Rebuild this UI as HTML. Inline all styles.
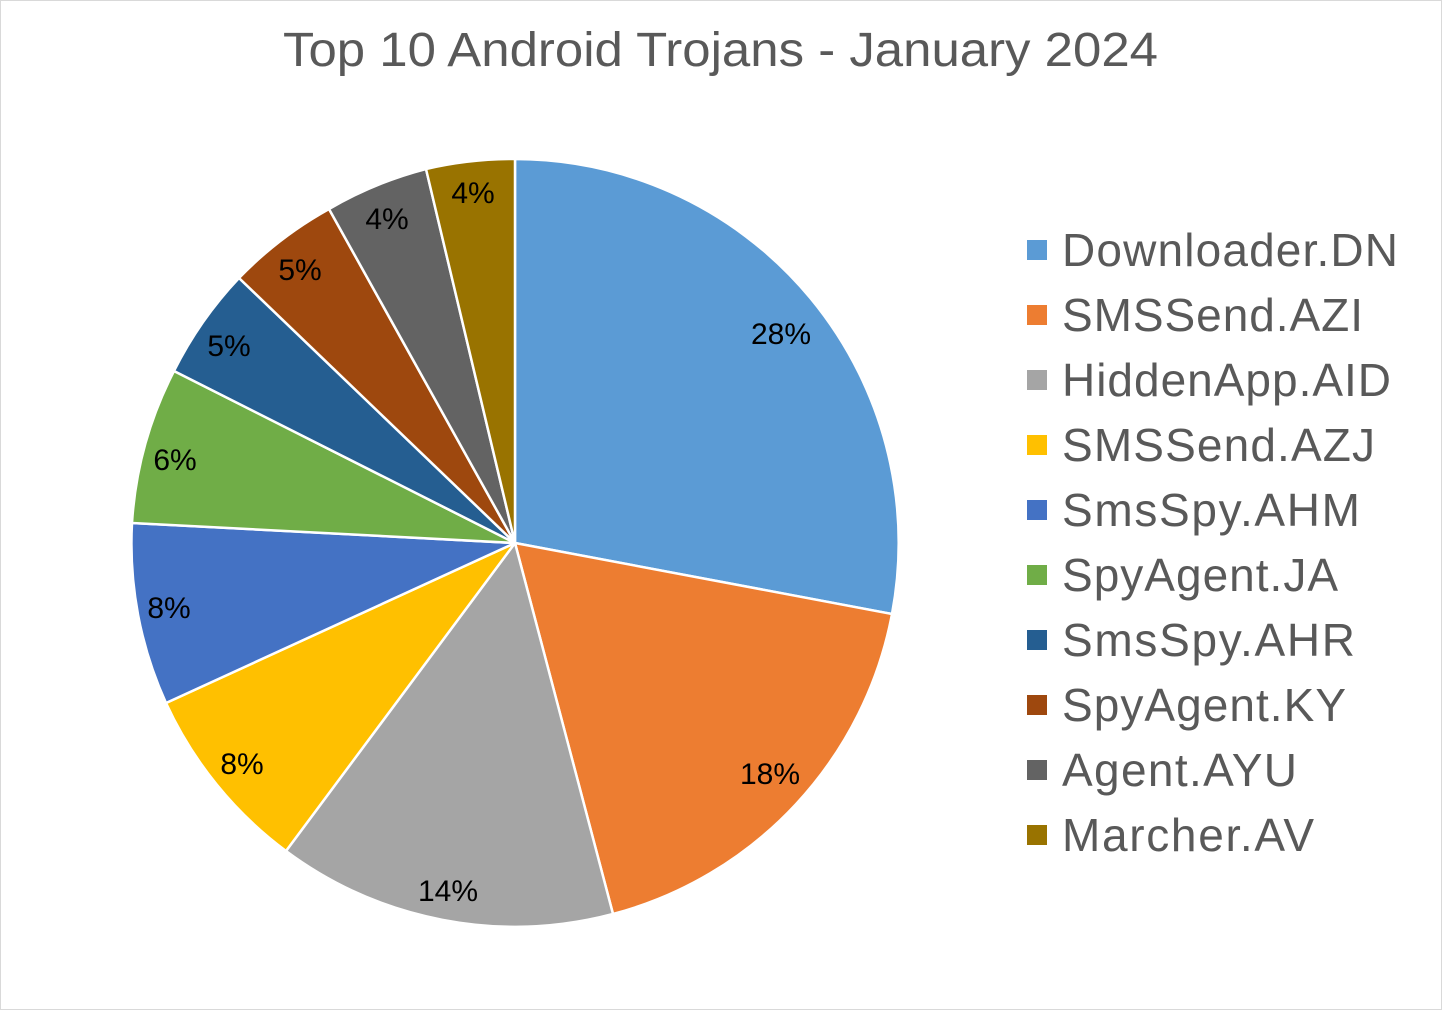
<!DOCTYPE html>
<html><head><meta charset="utf-8"><style>
body{margin:0;background:#fff}
svg{display:block}
</style></head><body>
<svg width="1442" height="1010" xmlns="http://www.w3.org/2000/svg" font-family="Liberation Sans, Arial, sans-serif">
<rect x="0.5" y="0.5" width="1441" height="1009" fill="#fff" stroke="#d9d9d9"/>
<text x="283" y="66" font-size="48" fill="#595959" textLength="875" lengthAdjust="spacingAndGlyphs">Top 10 Android Trojans - January 2024</text>
<g stroke="#fff" stroke-width="2.5" stroke-linejoin="round">
<path d="M515,543 L515,159 A384,384 0 0 1 892,614 Z" fill="#5B9BD5"/>
<path d="M515,543 L892,614 A384,384 0 0 1 613,914 Z" fill="#ED7D31"/>
<path d="M515,543 L613,914 A384,384 0 0 1 286,851 Z" fill="#A5A5A5"/>
<path d="M515,543 L286,851 A384,384 0 0 1 166,703 Z" fill="#FFC000"/>
<path d="M515,543 L166,703 A384,384 0 0 1 132,523 Z" fill="#4472C4"/>
<path d="M515,543 L132,523 A384,384 0 0 1 174,371 Z" fill="#70AD47"/>
<path d="M515,543 L174,371 A384,384 0 0 1 239,278 Z" fill="#255E91"/>
<path d="M515,543 L239,278 A384,384 0 0 1 329,209 Z" fill="#9E480E"/>
<path d="M515,543 L329,209 A384,384 0 0 1 426,169 Z" fill="#636363"/>
<path d="M515,543 L426,169 A384,384 0 0 1 515,159 Z" fill="#997300"/>
</g>
<g font-size="30" fill="#000" text-anchor="middle">
<text x="781" y="344">28%</text>
<text x="770" y="784">18%</text>
<text x="448" y="901">14%</text>
<text x="242" y="774">8%</text>
<text x="169" y="618">8%</text>
<text x="175" y="470">6%</text>
<text x="229" y="356">5%</text>
<text x="300" y="280">5%</text>
<text x="387" y="229">4%</text>
<text x="473" y="203">4%</text>
</g>
<g font-size="46" fill="#595959" lengthAdjust="spacingAndGlyphs">
<rect x="1027" y="240" width="20" height="20" fill="#5B9BD5"/><text x="1062" y="266" textLength="336">Downloader.DN</text>
<rect x="1027" y="305" width="20" height="20" fill="#ED7D31"/><text x="1062" y="331" textLength="301">SMSSend.AZI</text>
<rect x="1027" y="370" width="20" height="20" fill="#A5A5A5"/><text x="1062" y="396" textLength="329">HiddenApp.AID</text>
<rect x="1027" y="435" width="20" height="20" fill="#FFC000"/><text x="1062" y="461" textLength="313">SMSSend.AZJ</text>
<rect x="1027" y="500" width="20" height="20" fill="#4472C4"/><text x="1062" y="526" textLength="298">SmsSpy.AHM</text>
<rect x="1027" y="565" width="20" height="20" fill="#70AD47"/><text x="1062" y="591" textLength="276">SpyAgent.JA</text>
<rect x="1027" y="630" width="20" height="20" fill="#255E91"/><text x="1062" y="656" textLength="293">SmsSpy.AHR</text>
<rect x="1027" y="695" width="20" height="20" fill="#9E480E"/><text x="1062" y="721" textLength="284">SpyAgent.KY</text>
<rect x="1027" y="760" width="20" height="20" fill="#636363"/><text x="1062" y="786" textLength="235">Agent.AYU</text>
<rect x="1027" y="825" width="20" height="20" fill="#997300"/><text x="1062" y="851" textLength="252">Marcher.AV</text>
</g>
</svg>
</body></html>
